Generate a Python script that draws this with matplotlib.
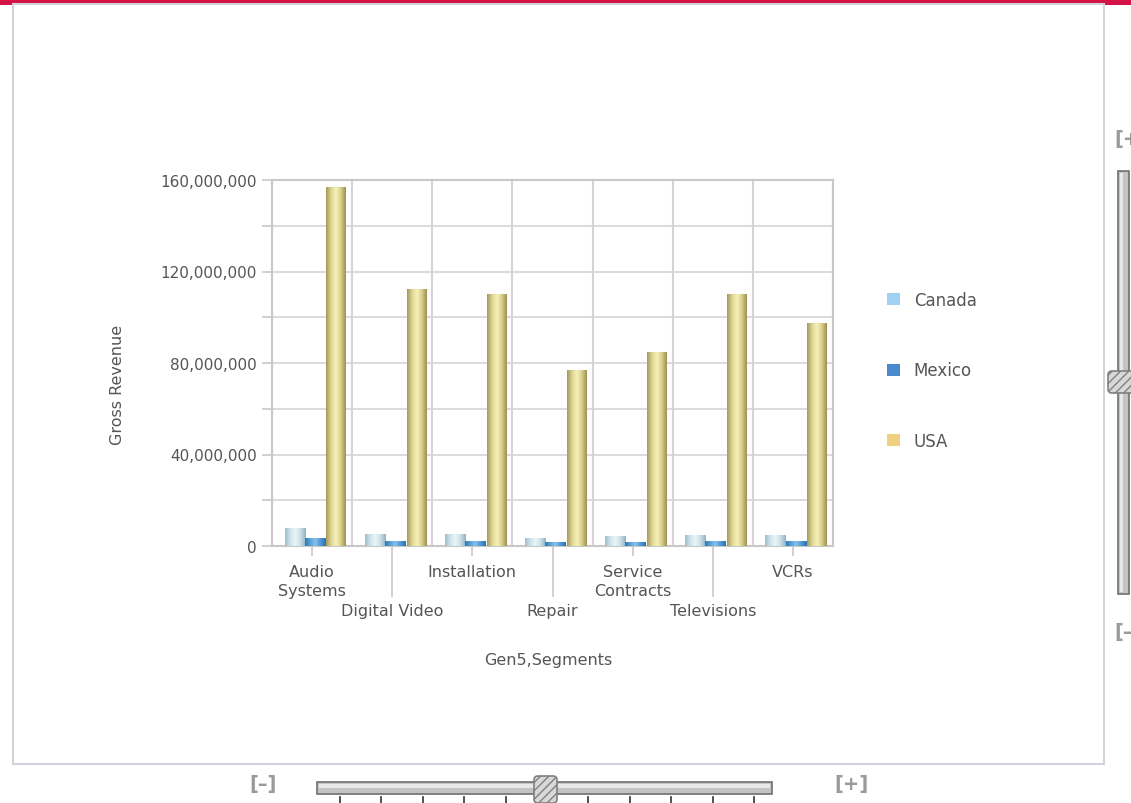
import numpy as np
import matplotlib
matplotlib.use("Agg")
import matplotlib.pyplot as plt
from matplotlib.colors import LinearSegmentedColormap
from matplotlib.patches import Rectangle, Patch, FancyBboxPatch
from matplotlib.ticker import FuncFormatter, MultipleLocator

# ---------------- data ----------------
categories = ["Audio\nSystems", "Digital Video", "Installation", "Repair",
              "Service\nContracts", "Televisions", "VCRs"]
series = ["Canada", "Mexico", "USA"]
canada = [7.8e6, 5.2e6, 5.2e6, 3.5e6, 4.2e6, 5.0e6, 5.0e6]
mexico = [3.5e6, 2.4e6, 2.4e6, 1.6e6, 1.8e6, 2.3e6, 2.3e6]
usa = [157.0e6, 112.5e6, 110.0e6, 77.0e6, 84.8e6, 110.0e6, 97.5e6]
y_ticks = [0, 40e6, 80e6, 120e6, 160e6]

values = [canada, mexico, usa]
legend_colors = ["#a0d0f2", "#4a8acc", "#f0d07e"]
gradients = [
    ["#9dbccb", "#cfe4ec", "#eaf5f8", "#c9e0ea", "#8fb2c4"],
    ["#2f78b8", "#5aa2d8", "#86c2ec", "#4f98d4", "#2c70b0"],
    ["#a89858", "#dcd494", "#f6f2b8", "#d8cf8c", "#a08f50"],
]
offsets = [-0.215, 0.035, 0.30]
widths = [0.255, 0.255, 0.24]

W, H = 1131, 804
fig = plt.figure(figsize=(W / 100, H / 100), dpi=100)

# ---------------- background / widget chrome ----------------
bg = fig.add_axes([0, 0, 1, 1], zorder=0)
bg.set_xlim(0, W)
bg.set_ylim(H, 0)
bg.axis("off")
bg.add_patch(Rectangle((0, 0), W, 5.5, color="#d31245", lw=0))
bg.add_patch(Rectangle((12.5, 5), 1091, 760, fill=False, ec="#d2d2da", lw=1.5))

# bottom slider
bg.text(263, 785, "[\u2013]", ha="center", va="center", fontsize=14,
        color="#9a9a9a", fontweight="bold")
bg.text(851, 785, "[+]", ha="center", va="center", fontsize=14,
        color="#9a9a9a", fontweight="bold")
bg.add_patch(Rectangle((317, 783), 455, 12, fc="#c4c4c4", ec="#707070", lw=1.2))
bg.add_patch(Rectangle((319, 785), 451, 4, fc="#e8e8e8", ec="none"))
for tx in np.linspace(340, 754, 11):
    if abs(tx - 547) > 15:
        bg.plot([tx, tx], [798, 804], color="#333333", lw=1.2)
bg.add_patch(FancyBboxPatch((534, 777), 23, 27, boxstyle="round,pad=0,rounding_size=4",
                            fc="#d8d8d8", ec="#808080", lw=1.2, hatch="////"))

# right slider
bg.text(1114, 140, "[+", ha="left", va="center", fontsize=14,
        color="#9a9a9a", fontweight="bold", clip_on=False)
bg.text(1114, 633, "[\u2013", ha="left", va="center", fontsize=14,
        color="#9a9a9a", fontweight="bold")
bg.add_patch(Rectangle((1118, 172), 11, 423, fc="#c4c4c4", ec="#707070", lw=1.2))
bg.add_patch(Rectangle((1120, 174), 3, 419, fc="#e8e8e8", ec="none"))
bg.add_patch(FancyBboxPatch((1108, 372), 30, 22, boxstyle="round,pad=0,rounding_size=4",
                            fc="#d8d8d8", ec="#808080", lw=1.2, hatch="////"))

# ---------------- main chart ----------------
ax = fig.add_axes([272 / W, 1 - 547 / H, (833 - 272) / W, (547 - 181) / H], zorder=1)
ax.set_facecolor("none")
x = np.arange(len(categories))
grid_c = "#d4d4d4"

for k, (vals, grad) in enumerate(zip(values, gradients)):
    bars = ax.bar(x + offsets[k], vals, width=widths[k], color=legend_colors[k],
                  zorder=3, lw=0)
    cm = LinearSegmentedColormap.from_list(f"g{k}", grad)
    for b in bars:
        x0, y0, w, h = b.get_x(), b.get_y(), b.get_width(), b.get_height()
        im = ax.imshow(np.linspace(0, 1, 64).reshape(1, -1), cmap=cm,
                       extent=[x0, x0 + w, y0, y0 + h], aspect="auto",
                       zorder=3.5, interpolation="bilinear")
        im.set_clip_path(b)

ax.set_xlim(-0.5, len(categories) - 0.5)
ax.set_ylim(0, 160e6)

for b in np.arange(-0.5, len(categories), 1.0):
    ax.axvline(b, color=grid_c, lw=1.5, zorder=1)

ax.set_yticks(y_ticks)
ax.yaxis.set_minor_locator(MultipleLocator(20e6))
ax.yaxis.set_major_formatter(FuncFormatter(lambda v, p: f"{int(v):,}"))
ax.grid(axis="y", which="both", color=grid_c, lw=1.2, zorder=1)
ax.set_axisbelow(True)
ax.tick_params(axis="y", which="both", length=7, width=1.2, color="#c8c8c8",
               labelsize=11, labelcolor="#555555", pad=4)

major_idx = x[0::2]
minor_idx = x[1::2]
ax.set_xticks(major_idx)
ax.set_xticklabels([categories[i] for i in major_idx])
ax.set_xticks(minor_idx, minor=True)
ax.set_xticklabels([categories[i] for i in minor_idx], minor=True)
ax.tick_params(axis="x", which="major", length=7, width=1.2, color="#c8c8c8",
               labelsize=11.5, labelcolor="#555555", pad=6)
ax.tick_params(axis="x", which="minor", length=37, width=1.2, color="#c8c8c8",
               labelsize=11.5, labelcolor="#555555", pad=4)
for lab in ax.get_xticklabels(which="both"):
    lab.set_linespacing(1.3)

for s in ax.spines.values():
    s.set_color("#c8c8c8")
    s.set_linewidth(1.5)

fig.text(117 / W, 1 - 385 / H, "Gross Revenue", rotation=90, ha="center",
         va="center", fontsize=11.5, color="#555555")
fig.text(548 / W, 1 - 661 / H, "Gen5,Segments", ha="center", va="center",
         fontsize=11.5, color="#555555")

handles = [Patch(facecolor=c, edgecolor="none") for c in legend_colors]
fig.legend(handles, series, loc="upper left",
           bbox_to_anchor=(872 / W, 1 - 277 / H), frameon=False,
           fontsize=12, labelcolor="#555555", handlelength=0.75,
           handleheight=0.75, handletextpad=0.85, labelspacing=3.15)

fig.savefig("out.png", dpi=100)
